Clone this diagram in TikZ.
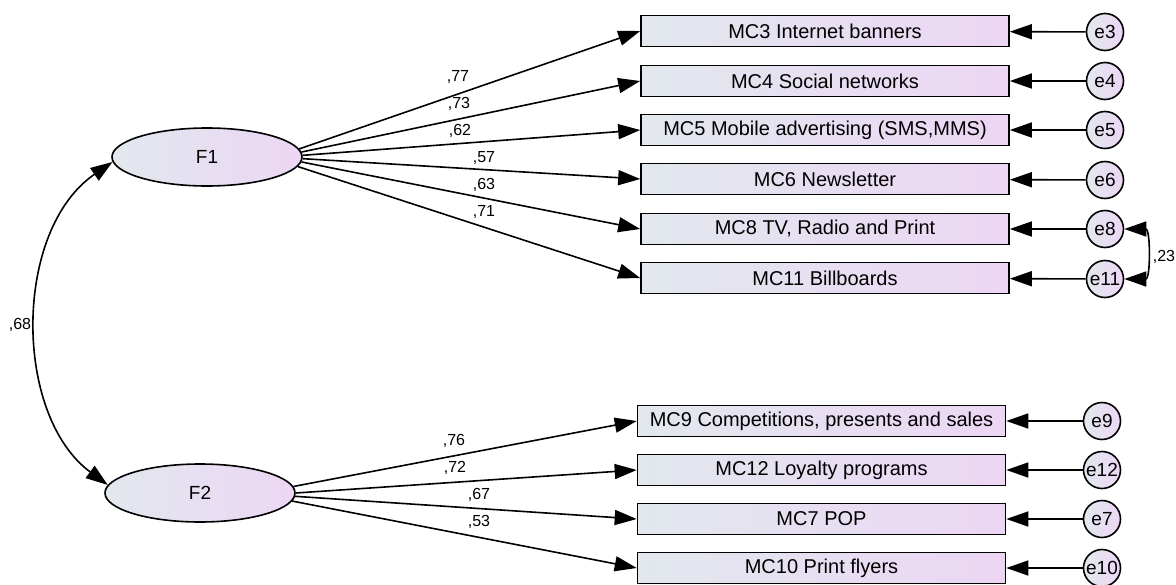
\documentclass[tikz,border=0pt]{standalone}
\usepackage{fontspec}
\setmainfont{Liberation Sans}
\usetikzlibrary{arrows.meta,shapes.geometric}
\definecolor{gl}{RGB}{226,232,238}
\definecolor{gr}{RGB}{236,214,244}
\tikzset{
 obs/.style={draw,line width=1.6pt,minimum width=368pt,minimum height=31pt,left color=gl,right color=gr,font=\fontsize{20}{22}\selectfont,inner sep=0pt},
 lat/.style={ellipse,draw,line width=1.6pt,minimum width=190pt,minimum height=58pt,left color=gl,right color=gr,font=\fontsize{19}{21}\selectfont,inner sep=0pt},
 err/.style={circle,draw,line width=1.6pt,minimum size=37pt,inner sep=0pt,left color=gl,right color=gr,font=\fontsize{19}{21}\selectfont},
 reg/.style={line width=1.6pt,-{Triangle[length=22pt,width=15pt]}},
 cov/.style={line width=1.6pt,{Triangle[length=22pt,width=15pt]}-{Triangle[length=22pt,width=15pt]}},
 lbl/.style={font=\fontsize{16}{18}\selectfont,inner sep=0pt},
}
\begin{document}
\begin{tikzpicture}[x=1pt,y=-1pt]
\useasboundingbox (0,0) rectangle (1176,584);
\node[lat] (F1) at (207,157) {F1};
\node[lat] (F2) at (200,493) {F2};
\node[obs] (MC3) at (825,31) {MC3 Internet banners};
\node[obs] (MC4) at (825,81) {MC4 Social networks};
\node[obs] (MC5) at (825,130) {MC5 Mobile advertising (SMS,MMS)};
\node[obs] (MC6) at (825,179) {MC6 Newsletter};
\node[obs] (MC8) at (825,229) {MC8 TV, Radio and Print};
\node[obs] (MC11) at (825,278) {MC11 Billboards};
\node[obs] (MC9) at (821.5,421) {MC9 Competitions, presents and sales};
\node[obs] (MC12) at (821.5,470) {MC12 Loyalty programs};
\node[obs] (MC7) at (821.5,519) {MC7 POP};
\node[obs] (MC10) at (821.5,568) {MC10 Print flyers};
\node[err] (e3) at (1105,32) {e3};
\node[err] (e4) at (1105,81) {e4};
\node[err] (e5) at (1105,130) {e5};
\node[err] (e6) at (1105,180) {e6};
\node[err] (e8) at (1105,229) {e8};
\node[err] (e11) at (1105,279) {e11};
\node[err] (e9) at (1102,421) {e9};
\node[err] (e12) at (1102,470) {e12};
\node[err] (e7) at (1102,519) {e7};
\node[err] (e10) at (1102,568) {e10};
\foreach \a/\m in {5.5/MC3,3.3/MC4,1.2/MC5,-1.4/MC6,-3.7/MC8,-6/MC11} \draw[reg] (F1.\a) -- (\m.west);
\foreach \a/\m in {4/MC9,0.8/MC12,-2/MC7,-5.5/MC10} \draw[reg] (F2.\a) -- (\m.west);
\foreach \e/\m in {e3/MC3,e4/MC4,e5/MC5,e6/MC6,e8/MC8,e11/MC11,e9/MC9,e12/MC12,e7/MC7,e10/MC10} \draw[reg] (\e) -- (\m);
\draw[cov] (F1.183) .. controls (13,230) and (13,415) .. (F2.175);
\draw[cov] (e8.east) to[out=0,in=0,looseness=1.35] (e11.east);
\node[lbl] (l77) at (458,77) {,77};
\node[lbl] (l73) at (459,104) {,73};
\node[lbl] (l62) at (460,131) {,62};
\node[lbl] (l57) at (484,158) {,57};
\node[lbl] (l63) at (484,185) {,63};
\node[lbl] (l71) at (484,212) {,71};
\node[lbl] (l76) at (454,441) {,76};
\node[lbl] (l72) at (455,468) {,72};
\node[lbl] (l67) at (479,495) {,67};
\node[lbl] (l53) at (479,522) {,53};
\node[lbl] (l68) at (20,325) {,68};
\node[lbl] (l23) at (1164,257) {,23};
\end{tikzpicture}
\end{document}
